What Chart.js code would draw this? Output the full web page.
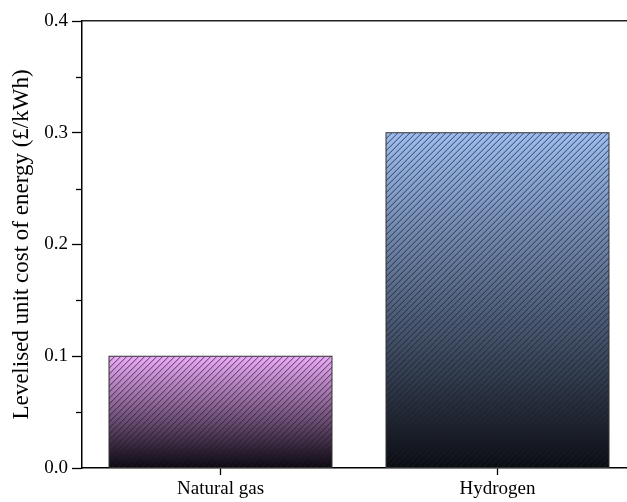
<!DOCTYPE html>
<html>
<head>
<meta charset="utf-8">
<script src="https://cdn.jsdelivr.net/npm/chart.js@4"></script>
<style>
  html, body { margin: 0; padding: 0; background: #fff; overflow: hidden; }
</style>
</head>
<body>
<canvas id="costChart" width="636" height="502"></canvas>
<script>
// data
var categories = ['Natural gas', 'Hydrogen'];
var costValues = [0.1, 0.3];
var topColours = ['#eeaafa', '#9cbdf1'];
var bottomColours = ['#0b0710', '#0a0c12'];
var yTicks = [0, 0.1, 0.2, 0.3, 0.4];
var yMinorTicks = [0.05, 0.15, 0.25, 0.35];

var serif = '"Liberation Serif", "Times New Roman", serif';

function barGradient(context) {
    var chart = context.chart;
    if (!chart.chartArea) return topColours[context.dataIndex];
    var y = chart.scales.y;
    var top = y.getPixelForValue(costValues[context.dataIndex]);
    var bottom = y.getPixelForValue(0);
    var g = chart.ctx.createLinearGradient(0, top, 0, bottom);
    g.addColorStop(0, topColours[context.dataIndex]);
    g.addColorStop(1, bottomColours[context.dataIndex]);
    return g;
}

// hatch lines over each bar + minor ticks on y axis
var hatchPlugin = {
    id: 'hatch',
    afterDatasetsDraw: function(chart) {
        var ctx = chart.ctx;
        var meta = chart.getDatasetMeta(0);
        meta.data.forEach(function(bar) {
            var left = bar.x - bar.width / 2;
            var right = bar.x + bar.width / 2;
            var top = bar.y;
            var bottom = bar.base;
            ctx.save();
            ctx.beginPath();
            ctx.rect(left, top, right - left, bottom - top);
            ctx.clip();
            ctx.strokeStyle = 'rgba(30,30,40,0.85)';
            ctx.lineWidth = 0.9;
            var h = bottom - top;
            for (var x = left - h; x < right + 6; x += 6) {
                ctx.beginPath();
                ctx.moveTo(x, bottom);
                ctx.lineTo(x + h, top);
                ctx.stroke();
            }
            ctx.restore();
            ctx.save();
            ctx.strokeStyle = '#333';
            ctx.lineWidth = 1;
            ctx.strokeRect(left, top, right - left, bottom - top);
            ctx.restore();
        });
    },
    afterDraw: function(chart) {
        var ctx = chart.ctx;
        var y = chart.scales.y;
        var x0 = chart.chartArea.left;
        ctx.save();
        ctx.strokeStyle = '#000';
        ctx.lineWidth = 1.3;
        yMinorTicks.forEach(function(v) {
            var py = Math.round(y.getPixelForValue(v)) + 0.5;
            ctx.beginPath();
            ctx.moveTo(x0 - 6, py);
            ctx.lineTo(x0, py);
            ctx.stroke();
        });
        ctx.restore();
    }
};

var ctx = document.getElementById('costChart').getContext('2d');
var costChart = new Chart(ctx, {
    type: 'bar',
    data: {
        labels: categories,
        datasets: [{
            data: costValues,
            backgroundColor: barGradient,
            borderWidth: 0,
            barPercentage: 0.805,
            categoryPercentage: 1
        }]
    },
    plugins: [hatchPlugin],
    options: {
        responsive: false,
        animation: false,
        layout: { padding: 0 },
        plugins: {
            legend: { display: false },
            tooltip: { enabled: false }
        },
        scales: {
            x: {
                position: 'bottom',
                offset: true,
                afterFit: function(scale) { scale.height = 34; },
                grid: {
                    offset: false,
                    drawOnChartArea: false,
                    tickLength: 7,
                    tickColor: '#000',
                    tickWidth: 1.3
                },
                border: { color: '#000', width: 1.5 },
                ticks: {
                    color: '#000',
                    padding: 3,
                    font: { family: serif, size: 19 }
                }
            },
            x2: {
                type: 'category',
                labels: categories,
                position: 'top',
                afterFit: function(scale) { scale.height = 21; },
                grid: { display: false },
                border: { color: '#222', width: 1.5 },
                ticks: { display: false }
            },
            y: {
                min: 0,
                max: 0.4,
                afterFit: function(scale) { scale.width = 82; },
                afterBuildTicks: function(scale) {
                    scale.ticks = yTicks.map(function(v) { return { value: v }; });
                },
                grid: {
                    drawOnChartArea: false,
                    tickLength: 10,
                    tickColor: '#000',
                    tickWidth: 1.3
                },
                border: { color: '#000', width: 1.5 },
                ticks: {
                    color: '#000',
                    padding: 4,
                    font: { family: serif, size: 19 },
                    callback: function(v) { return Number(v).toFixed(1); }
                },
                title: {
                    display: true,
                    text: 'Levelised unit cost of energy (£/kWh)',
                    color: '#000',
                    padding: { top: 8, bottom: 0 },
                    font: { family: serif, size: 23 }
                }
            }
        }
    }
});
</script>
</body>
</html>
